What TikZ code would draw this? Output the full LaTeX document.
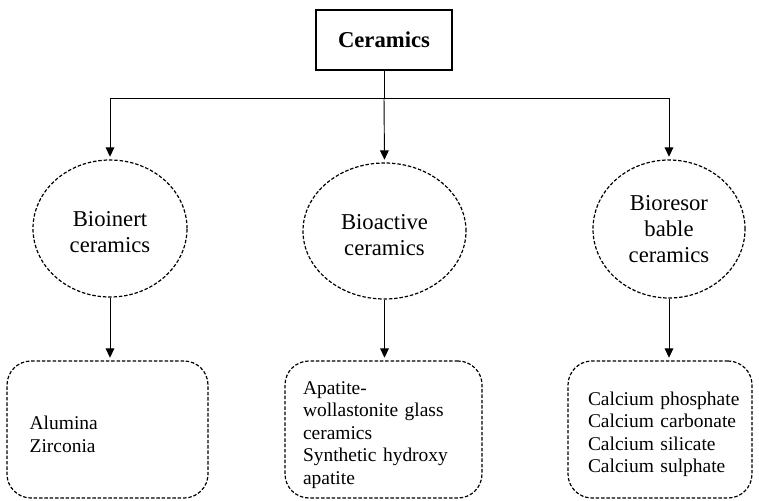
\documentclass[tikz,border=0pt]{standalone}
\usepackage{fontspec}
\setmainfont{Liberation Serif}
\usetikzlibrary{shapes.geometric,arrows.meta}
\newcommand\tgap[1]{\rule{0pt}{#1}}
\begin{document}
\begin{tikzpicture}[x=0.75pt,y=-0.75pt,
 dsh/.style={dash pattern=on 2.6pt off 1.4pt, line width=0.9pt},
 cat/.style={ellipse,draw,dsh,inner sep=0pt,align=center,font=\fontsize{17}{19.5}\selectfont},
 item/.style={draw,dsh,rounded corners=18pt,inner ysep=0pt,align=left,font=\fontsize{14.6}{16.9}\selectfont,minimum height=102.75pt},
 conn/.style={line width=0.7pt,-{Triangle[length=7pt,width=6.5pt]},shorten >=2pt},
 plain/.style={line width=0.7pt},
]
\useasboundingbox (0,0) rectangle (759,500);
\node[draw,line width=1pt,minimum width=102pt,minimum height=45pt,font=\bfseries\fontsize{17}{20}\selectfont] (root) at (384,40) {Ceramics};

\node[cat,minimum width=115.5pt,minimum height=102.75pt] (inert) at (110,228.5) {\tgap{16.5pt}Bioinert\\ceramics};
\node[cat,minimum width=122.25pt,minimum height=102pt] (active) at (384.5,231) {\tgap{17pt}Bioactive\\ceramics};
\node[cat,minimum width=114pt,minimum height=103.5pt] (resorb) at (669,229) {Bioresor\\bable\\ceramics};

\node[item,inner xsep=17pt,text width=116.75pt] (inertbox) at (107.5,429.5) {\tgap{17.5pt}Alumina\\Zirconia};
\node[item,inner xsep=13.5pt,text width=120.75pt] (activebox) at (383.5,429.5) {\tgap{17.5pt}Apatite-\\wollastonite glass\\ceramics\\\mbox{Synthetic hydroxy}\\apatite};
\node[item,inner xsep=15pt,text width=108pt] (resorbbox) at (660,429.5) {\tgap{17.5pt}\mbox{Calcium phosphate}\\\mbox{Calcium carbonate}\\Calcium silicate\\Calcium sulphate};

\coordinate (j) at (384,98);
\coordinate (jl) at (110,98);
\coordinate (jr) at (669,98);
\draw[plain] (root.south) -- (j);
\draw[plain] (jl) -- (jr);
\draw[conn] (jl) -- (inert.north);
\draw[conn] (j) -- (active.north);
\draw[conn] (jr) -- (resorb.north);
\draw[conn] (inert.south) -- (inert.south |- inertbox.north);
\draw[conn] (active.south) -- (active.south |- activebox.north);
\draw[conn] (resorb.south) -- (resorb.south |- resorbbox.north);
\end{tikzpicture}
\end{document}
